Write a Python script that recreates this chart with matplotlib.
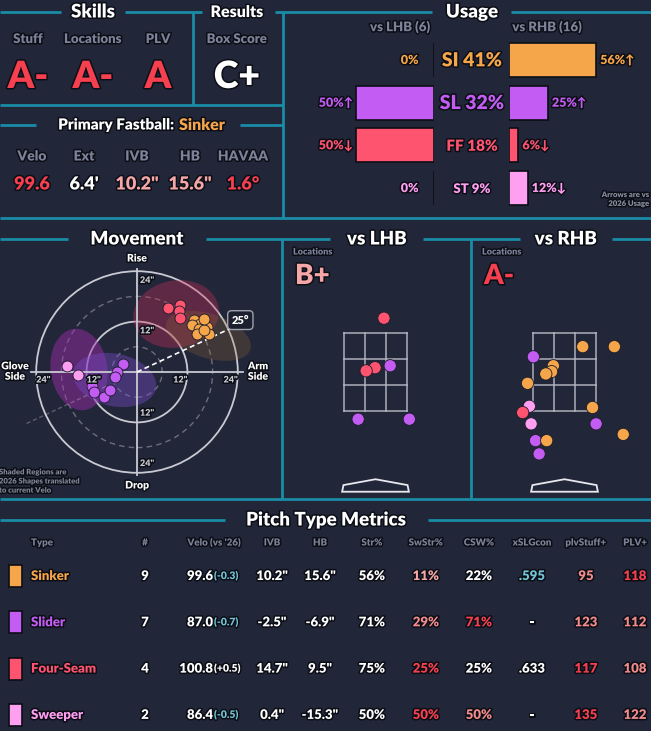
import matplotlib
matplotlib.use("Agg")
import matplotlib.pyplot as plt
import matplotlib.patheffects as pe
from matplotlib.patches import Ellipse, Circle, Polygon
import numpy as np

plt.rcParams['font.family'] = ['Lato', 'DejaVu Sans']
plt.rcParams['font.weight'] = 'heavy'
FW = 'heavy'

W, H = 651, 731
BG = '#222639'
TEAL = '#1a8ca6'
GRAY = '#7c8299'
WHITE = '#ffffff'
RED = '#f7404f'
SALMON = '#f28b8b'
PINKL = '#f5a6a6'
BLUE = '#72c4d6'
COL = {'SI': '#f5a54a', 'SL': '#c25cf2', 'FF': '#ff5470', 'ST': '#ff9ff2'}

# ---- top left: skills / results / primary fastball
skill_labels = ['Stuff', 'Locations', 'PLV']
skill_grades = ['A-', 'A-', 'A']
box_score = 'C+'
fb_labels = ['Velo', 'Ext', 'IVB', 'HB', 'HAVAA']
fb_values = ['99.6', "6.4'", '10.2"', '15.6"', '1.6°']
fb_colors = [RED, WHITE, PINKL, PINKL, RED]

# ---- usage
usage_types = ['SI', 'SL', 'FF', 'ST']
usage_total = [41, 32, 18, 9]
usage_lhb = [0, 50, 50, 0]
usage_rhb = [56, 25, 6, 12]
arrow_lhb = ['', '↑', '↓', '']
arrow_rhb = ['↑', '↑', '↓', '↓']
n_lhb, n_rhb = 6, 16

# ---- movement (HB, IVB in inches)
ff_hb = [7.4, 10.3, 10.1, 10.2]
ff_ivb = [15.2, 15.9, 14.5, 12.9]
si_hb = [13.5, 15.1, 13.1, 14.7, 16.7, 14.3, 17.1, 15.9, 15.9]
si_ivb = [12.5, 11.5, 11.1, 10.3, 10.7, 9.1, 9.1, 9.9, 12.7]
sl_hb = [-3.4, -4.8, -5.2, -10.7, -10.2, -7.8, -6.5]
sl_ivb = [2.0, 0.0, -1.2, -3.3, -4.8, -6.0, -4.2]
st_hb = [-16.7, -14.1]
st_ivb = [1.4, -0.6]
arm_angle = 25
# shaded 2026 shapes: center x, center y, width, height, angle
reg_types = ['FF', 'SI', 'ST', 'SL']
reg_cx = [9.3, 17.0, -13.8, -5.3]
reg_cy = [13.8, 8.6, 0.6, -1.9]
reg_w = [20.5, 21.0, 13.5, 20.0]
reg_h = [16.0, 10.5, 19.5, 12.5]
reg_ang = [10, -18, 8, -12]
reg_fc = {'FF': '#d0305a', 'SI': '#a0703a', 'ST': '#a42cb0', 'SL': '#7a4ccc'}
reg_alpha = {'FF': 0.35, 'SI': 0.24, 'ST': 0.45, 'SL': 0.4}

# ---- locations (plate_x, plate_z in feet)
lhb_type = ['FF', 'FF', 'FF', 'SL', 'SL', 'SL']
lhb_x = [0.19, -0.01, -0.21, 0.33, -0.39, 0.76]
lhb_z = [3.88, 2.61, 2.53, 2.66, 1.29, 1.29]
rhb_type = ['SI', 'SI', 'SL', 'SI', 'SI', 'SI', 'SI', 'ST', 'SI', 'FF',
            'ST', 'SL', 'SI', 'SL', 'SI', 'SL']
rhb_x = [0.41, 1.12, -0.70, -0.25, -0.29, -0.42, -0.83, -0.79, 0.63, -0.94,
         -0.75, 0.71, 1.32, -0.65, -0.40, -0.57]
rhb_z = [3.15, 3.15, 2.89, 2.66, 2.51, 2.45, 2.21, 1.62, 1.59, 1.46,
         1.17, 1.17, 0.90, 0.74, 0.74, 0.40]
loc_grade_lhb, loc_grade_rhb = 'B+', 'A-'

# ---- pitch type metrics table
t_names = ['Sinker', 'Slider', 'Four-Seam', 'Sweeper']
t_types = ['SI', 'SL', 'FF', 'ST']
t_count = ['9', '7', '4', '2']
t_velo = ['99.6', '87.0', '100.8', '86.4']
t_vdiff = ['(-0.3)', '(-0.7)', '(+0.5)', '(-0.5)']
t_ivb = ['10.2"', '-2.5"', '14.7"', '0.4"']
t_hb = ['15.6"', '-6.9"', '9.5"', '-15.3"']
t_str = ['56%', '71%', '75%', '50%']
t_swstr = ['11%', '29%', '25%', '50%']
t_csw = ['22%', '71%', '25%', '50%']
t_xslg = ['.595', '-', '.633', '-']
t_stuff = ['95', '123', '117', '135']
t_plv = ['118', '112', '108', '122']
c_swstr = [PINKL, SALMON, RED, RED]
c_csw = [WHITE, RED, WHITE, SALMON]
c_xslg = [BLUE, WHITE, WHITE, WHITE]
c_stuff = [SALMON, SALMON, RED, RED]
c_plv = [RED, SALMON, SALMON, SALMON]
c_vdiff = [BLUE, BLUE, WHITE, BLUE]

OUT = [pe.withStroke(linewidth=2.2, foreground='#0c0e16')]

fig = plt.figure(figsize=(W / 100, H / 100), dpi=100, facecolor=BG)
cv = fig.add_axes([0, 0, 1, 1])
cv.set_xlim(0, W)
cv.set_ylim(H, 0)
cv.axis('off')
cv.set_facecolor(BG)


def t(x, y, s, size, color=WHITE, ha='center', va='center', **kw):
    cv.text(x, y, s, fontsize=size, color=color, ha=ha, va=va,
            fontweight=FW, path_effects=OUT, **kw)


def hline(y, x0, x1):
    cv.plot([x0, x1], [y, y], color=TEAL, lw=2, solid_capstyle='butt')


def vline(x, y0, y1):
    cv.plot([x, x], [y0, y1], color=TEAL, lw=2, solid_capstyle='butt')


def px_axes(x0, y0, x1, y1):
    a = fig.add_axes([x0 / W, 1 - y1 / H, (x1 - x0) / W, (y1 - y0) / H])
    a.patch.set_alpha(0)
    a.axis('off')
    return a


# frame lines
for x0, x1 in [(0, 61), (125, 202), (275, 432), (511, W)]:
    hline(12, x0, x1)
vline(193, 12, 105)
vline(283, 12, 218)
hline(105, 0, 283)
hline(125, 0, 36)
hline(125, 240, 283)
hline(218, 0, W)
for x0, x1 in [(0, 68), (206, 330), (423, 520), (612, W)]:
    hline(239, x0, x1)
vline(282, 239, 499)
vline(471, 239, 499)
hline(499, 0, W)
hline(520, 0, 225)
hline(520, 428, W)

# titles
t(93, 12, 'Skills', 13.5)
t(237, 12, 'Results', 11.5)
t(472, 12, 'Usage', 13.5)
t(137, 239, 'Movement', 13.5)
t(377, 239, 'vs LHB', 13.5)
t(566, 239, 'vs RHB', 13.5)
t(326, 520, 'Pitch Type Metrics', 13.5)

# skills
for i, (lab, g) in enumerate(zip(skill_labels, skill_grades)):
    x = [28, 93, 158][i]
    t(x, 39, lab, 9.5, GRAY)
    t(x, 77, g, 27, RED)
t(237, 39, 'Box Score', 9.5, GRAY)
t(237, 77, box_score, 27, WHITE)

t(174, 125, 'Primary Fastball:', 11, WHITE, ha='right')
t(179, 125, 'Sinker', 11.5, COL['SI'], ha='left')
for i, (lab, v, c) in enumerate(zip(fb_labels, fb_values, fb_colors)):
    x = [32, 84, 137, 190, 243][i]
    t(x, 156, lab, 10, GRAY)
    t(x, 184, v, 13, c)

# usage bars
t(400, 27, f'vs LHB ({n_lhb})', 9.5, GRAY)
t(547, 27, f'vs RHB ({n_rhb})', 9.5, GRAY)
rows = np.arange(len(usage_types))
ppx = 1.556  # pixels per percent
ylo, yhi = (38 - 60) / 42.7, (210 - 60) / 42.7
axl = px_axes(290, 38, 434, 210)
axl.set_xlim((434 - 290) / ppx, 0)
axl.set_ylim(yhi, ylo)
axr = px_axes(509, 38, W, 210)
axr.set_xlim(0, (W - 509) / ppx)
axr.set_ylim(yhi, ylo)
cols = [COL[k] for k in usage_types]
axl.barh(rows, usage_lhb, height=0.8, color=cols, edgecolor='#0c0e16', lw=1.2)
axr.barh(rows, usage_rhb, height=0.8, color=cols, edgecolor='#0c0e16', lw=1.2)
csize = [14, 14, 11, 9.5]
for i, k in enumerate(usage_types):
    axl.text(max(usage_lhb[i], 8) + 2, i, f'{usage_lhb[i]}%{arrow_lhb[i]}',
             ha='right', va='center', fontsize=9, color=COL[k],
             fontweight=FW, path_effects=OUT, clip_on=False)
    axr.text(usage_rhb[i] + 2.6, i, f'{usage_rhb[i]}%{arrow_rhb[i]}',
             ha='left', va='center', fontsize=9, color=COL[k],
             fontweight=FW, path_effects=OUT, clip_on=False)
    axr.text(-(509 - 472) / ppx, i + 0.02, f'{k} {usage_total[i]}%',
             ha='center', va='center', fontsize=csize[i], color=COL[k],
             fontweight=FW, path_effects=OUT, clip_on=False)
t(649, 199, 'Arrows are vs\n2026 Usage', 5.5, '#8a8fa0', ha='right',
  multialignment='right', linespacing=1.3, va='center')

# movement plot
k = 4.2  # px per inch
cx, cy = 137, 372
axm = px_axes(0, 250, 282, 499)
axm.set_xlim(-cx / k, (282 - cx) / k)
axm.set_ylim((cy - 499) / k, (cy - 250) / k)
for r in [6, 18]:
    axm.add_patch(Circle((0, 0), r, fill=False, ec='#8a8c99', lw=1,
                         ls=(0, (4, 3)), alpha=0.7))
for r in [12, 24]:
    axm.add_patch(Circle((0, 0), r, fill=False, ec='#c9cad2', lw=1.3))
axm.plot([-25.2, 25.2], [0, 0], color='#c9cad2', lw=1.3)
axm.plot([0, 0], [-24.5, 24.5], color='#c9cad2', lw=1.3)
for i, rt in enumerate(reg_types):
    axm.add_patch(Ellipse((reg_cx[i], reg_cy[i]), reg_w[i], reg_h[i],
                          angle=reg_ang[i], fc=reg_fc[rt],
                          alpha=reg_alpha[rt], ec='none'))
a = np.radians(arm_angle)
axm.plot([0, 24.5 * np.cos(a)], [0, 24.5 * np.sin(a)], color=WHITE, lw=1.2,
         ls=(0, (3, 2)))
axm.plot([-29 * np.cos(a), -8 * np.cos(a)], [-29 * np.sin(a), -8 * np.sin(a)],
         color=WHITE, lw=1, ls=(0, (3, 2)), alpha=0.25)
for hb, ivb, tp in [(ff_hb, ff_ivb, 'FF'), (si_hb, si_ivb, 'SI'),
                    (sl_hb, sl_ivb, 'SL'), (st_hb, st_ivb, 'ST')]:
    axm.scatter(hb, ivb, s=62, color=COL[tp], ec='#1a1c28', lw=0.6, zorder=5)
for v in [12, 24]:
    for sgn in [1, -1]:
        axm.text(sgn * (v - 1.7), -1.9, f'{v}"', ha='center', va='center',
                 fontsize=6.5, color='#c9cad2', fontweight=FW,
                 path_effects=OUT, zorder=6)
        axm.text(0.7, sgn * (v - 2.2), f'{v}"', ha='left', va='center',
                 fontsize=6.5, color='#c9cad2', fontweight=FW,
                 path_effects=OUT, zorder=6)
axm.text(24.5 * np.cos(a) + 2.4, 24.5 * np.sin(a) + 2.0, f'{arm_angle}°',
         ha='center', va='center', fontsize=8, color=WHITE, fontweight=FW,
         zorder=7, bbox=dict(boxstyle='round,pad=0.35', fc='#1c1f2e',
                             ec='#a0a2ad', lw=1))
t(137, 259, 'Rise', 7.5)
t(137, 486, 'Drop', 7.5)
t(15, 372, 'Glove\nSide', 7.5, linespacing=1.2)
t(258, 372, 'Arm\nSide', 7.5, linespacing=1.2)
t(-1, 481, 'Shaded Regions are\n2026 Shapes translated\nto current Velo', 5.5,
  '#7f8496', ha='left', linespacing=1.35)

# location plots
zx = 17 / 24
plate = [(-0.75, -0.57), (0.75, -0.57), (0.72, -0.40), (0, -0.25), (-0.72, -0.40)]
for (x0, x1, zc, tps, xs, zs, grade, gcol) in [
        (282, 471, 375.5, lhb_type, lhb_x, lhb_z, loc_grade_lhb, PINKL),
        (471, W, 564.5, rhb_type, rhb_x, rhb_z, loc_grade_rhb, RED)]:
    ax = px_axes(x0, 255, x1, 499)
    ax.set_xlim((x0 - zc) / 44.5, (x1 - zc) / 44.5)
    ax.set_ylim(1.5 - (499 - 411) / 39, 3.5 + (333 - 255) / 39)
    for gx in np.linspace(-zx, zx, 4):
        ax.plot([gx, gx], [1.5, 3.5], color='#b9bbc4', lw=1.2, alpha=0.85)
    for gz in np.linspace(1.5, 3.5, 4):
        ax.plot([-zx, zx], [gz, gz], color='#b9bbc4', lw=1.2, alpha=0.85)
    ax.add_patch(Polygon(plate, closed=True, fill=False, ec='#e8e8ee', lw=1.3))
    ax.scatter(xs, zs, s=78, color=[COL[p] for p in tps], ec='#1a1c28',
               lw=0.6, zorder=5, clip_on=False)
    t(x0 + 11, 252, 'Locations', 6.5, GRAY, ha='left')
    t(x0 + 13, 276, grade, 20, gcol, ha='left')

# table
hdr_x = [31, 145, 214, 272, 320, 372, 426, 479, 532, 586, 635]
hdr = ['Type', '#', "Velo (vs '26)", 'IVB', 'HB', 'Str%', 'SwStr%', 'CSW%',
       'xSLGcon', 'plvStuff+', 'PLV+']
for i, (x, h) in enumerate(zip(hdr_x, hdr)):
    t(x, 543, h, 7, GRAY, ha='left' if i == 0 else 'center')
for i in range(len(t_names)):
    y = 576 + i * 46.3
    cv.bar(15.5, 22, bottom=y - 11, width=13, color=COL[t_types[i]],
           ec='#0c0e16', lw=1.2)
    t(31, y, t_names[i], 9.5, COL[t_types[i]], ha='left')
    t(145, y, t_count[i], 9.5)
    t(213, y, t_velo[i], 9.5, ha='right')
    t(214, y + 0.5, t_vdiff[i], 7.5, c_vdiff[i], ha='left')
    t(272, y, t_ivb[i], 9.5)
    t(320, y, t_hb[i], 9.5)
    t(372, y, t_str[i], 9.5)
    t(426, y, t_swstr[i], 9.5, c_swstr[i])
    t(479, y, t_csw[i], 9.5, c_csw[i])
    t(532, y, t_xslg[i], 9.5, c_xslg[i])
    t(586, y, t_stuff[i], 9.5, c_stuff[i])
    t(635, y, t_plv[i], 9.5, c_plv[i])

fig.savefig('out.png', dpi=100, facecolor=BG)
